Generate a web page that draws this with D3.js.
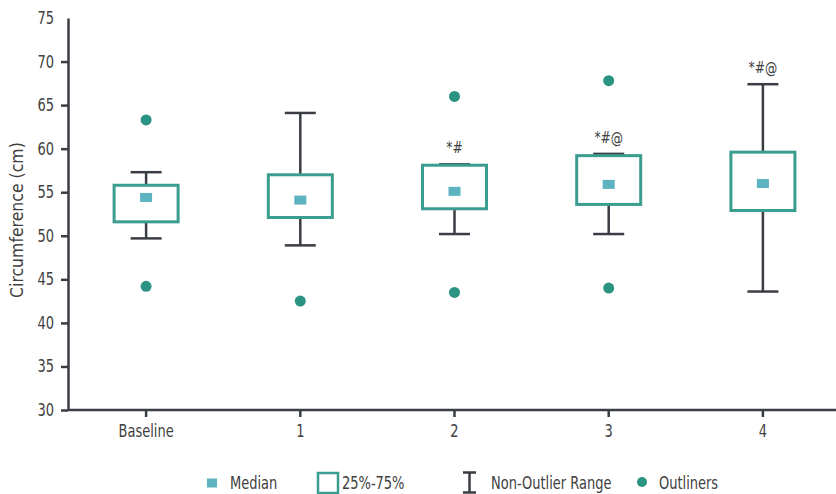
<!DOCTYPE html>
<html>
<head>
<meta charset="utf-8">
<script src="https://cdn.jsdelivr.net/npm/d3@7/dist/d3.min.js"></script>
<style>
  html, body { margin: 0; padding: 0; background: #fff; }
  svg { display: block; }
  text { font-family: "DejaVu Sans Condensed", "DejaVu Sans", sans-serif; fill: #404040; }
</style>
</head>
<body>
<svg id="chart" width="836" height="494"></svg>
<script>
// Visits and box-plot statistics (circumference in cm)
const categories  = ["Baseline", "1", "2", "3", "4"];
const q1          = [51.6, 52.1, 53.1, 53.6, 52.9];
const q3          = [55.8, 57.0, 58.1, 59.2, 59.6];
const medians     = [54.4, 54.1, 55.1, 55.9, 56.0];
const whiskerLow  = [49.7, 48.9, 50.2, 50.2, 43.6];
const whiskerHigh = [57.3, 64.1, 58.2, 59.4, 67.4];
const outliers    = [[63.3, 44.2], [42.5], [66.0, 43.5], [67.8, 44.0], []];
const marks       = ["", "", "*#", "*#@", "*#@"];
const yTicks      = [30, 35, 40, 45, 50, 55, 60, 65, 70, 75];
const legendItems = ["Median", "25%-75%", "Non-Outlier Range", "Outliners"];

const rows = categories.map((c, i) => ({
  cat: c, q1: q1[i], q3: q3[i], med: medians[i],
  lo: whiskerLow[i], hi: whiskerHigh[i], out: outliers[i], mark: marks[i]
}));

const teal = "#3a9d8f", medFill = "#5db3bf", dotFill = "#2b9381", dark = "#3a3d43";

// squeeze text horizontally to a narrow face
function narrow(sel, k = 0.85) {
  sel.each(function () {
    const w = this.getComputedTextLength();
    d3.select(this).attr("textLength", w * k).attr("lengthAdjust", "spacingAndGlyphs");
  });
}

const svg = d3.select("#chart");
const x = d3.scaleBand().domain(categories).range([69, 840]);
const y = d3.scaleLinear().domain([30, 75]).range([410, 18]);
const cx = d => x(d.cat) + x.bandwidth() / 2;
const boxW = 64, capW = 31, medW = 12, medH = 9;

// y axis
const yAxis = svg.append("g").attr("transform", "translate(68,0)")
  .call(d3.axisLeft(y).tickValues(yTicks).tickSize(7).tickPadding(7).tickSizeOuter(0));
yAxis.select(".domain").attr("stroke", dark).attr("stroke-width", 2.5);
yAxis.selectAll(".tick line").attr("stroke", dark).attr("stroke-width", 2.5)
  .filter(d => d === 75).remove();
yAxis.selectAll(".tick text").style("font-size", "17px").attr("fill", "#404040").call(narrow);

// x axis
const xAxis = svg.append("g").attr("transform", "translate(0,410)")
  .call(d3.axisBottom(x).tickSize(7).tickPadding(8).tickSizeOuter(0));
xAxis.select(".domain").attr("d", "M68,0H836").attr("stroke", dark).attr("stroke-width", 2.5);
xAxis.selectAll(".tick line").attr("stroke", dark).attr("stroke-width", 2.5);
xAxis.selectAll(".tick text").style("font-size", "17px").attr("fill", "#404040").call(narrow);

// y axis title
svg.append("text")
  .attr("transform", `translate(23,${y(51.8)}) rotate(-90)`)
  .attr("text-anchor", "middle")
  .style("font-size", "18px")
  .text("Circumference (cm)")
  .call(narrow, 0.97);

const g = svg.append("g");
const box = g.selectAll(".box").data(rows).join("g").attr("class", "box");

// whiskers
box.append("line")
  .attr("x1", cx).attr("x2", cx)
  .attr("y1", d => y(d.hi)).attr("y2", d => y(d.lo))
  .attr("stroke", dark).attr("stroke-width", 2.5);
box.append("line")
  .attr("x1", d => cx(d) - capW / 2).attr("x2", d => cx(d) + capW / 2)
  .attr("y1", d => y(d.hi)).attr("y2", d => y(d.hi))
  .attr("stroke", dark).attr("stroke-width", 2.5);
box.append("line")
  .attr("x1", d => cx(d) - capW / 2).attr("x2", d => cx(d) + capW / 2)
  .attr("y1", d => y(d.lo)).attr("y2", d => y(d.lo))
  .attr("stroke", dark).attr("stroke-width", 2.5);

// interquartile box
box.append("rect")
  .attr("x", d => cx(d) - boxW / 2).attr("width", boxW)
  .attr("y", d => y(d.q3)).attr("height", d => y(d.q1) - y(d.q3))
  .attr("fill", "#fff").attr("stroke", teal).attr("stroke-width", 3);

// median marker
box.append("rect")
  .attr("x", d => cx(d) - medW / 2).attr("width", medW)
  .attr("y", d => y(d.med) - medH / 2).attr("height", medH)
  .attr("fill", medFill);

// outliers
box.selectAll("circle").data(d => d.out.map(v => ({ cat: d.cat, v })))
  .join("circle")
  .attr("cx", cx).attr("cy", d => y(d.v)).attr("r", 5.5)
  .attr("fill", dotFill);

// significance marks
box.filter(d => d.mark).append("text")
  .attr("x", cx).attr("y", d => y(d.hi) - 11)
  .attr("text-anchor", "middle")
  .style("font-size", "16px")
  .text(d => d.mark)
  .call(narrow);

// legend
const lg = svg.append("g").attr("transform", "translate(0,483)");
lg.append("rect").attr("x", 207).attr("y", -4.5).attr("width", 10).attr("height", 9).attr("fill", medFill);
lg.append("text").attr("x", 230).attr("y", 6).style("font-size", "17px").text(legendItems[0]).call(narrow);
lg.append("rect").attr("x", 318).attr("y", -10).attr("width", 20).attr("height", 20)
  .attr("fill", "#fff").attr("stroke", teal).attr("stroke-width", 2.5);
lg.append("text").attr("x", 342).attr("y", 6).style("font-size", "17px").text(legendItems[1]).call(narrow);
lg.append("path").attr("d", "M463,-10.5H476M469.5,-10.5V9.5M463,9.5H476")
  .attr("stroke", dark).attr("stroke-width", 2.5).attr("fill", "none");
lg.append("text").attr("x", 491).attr("y", 6).style("font-size", "17px").text(legendItems[2]).call(narrow);
lg.append("circle").attr("cx", 642).attr("cy", -1).attr("r", 5).attr("fill", dotFill);
lg.append("text").attr("x", 659).attr("y", 6).style("font-size", "17px").text(legendItems[3]).call(narrow);
</script>
</body>
</html>
